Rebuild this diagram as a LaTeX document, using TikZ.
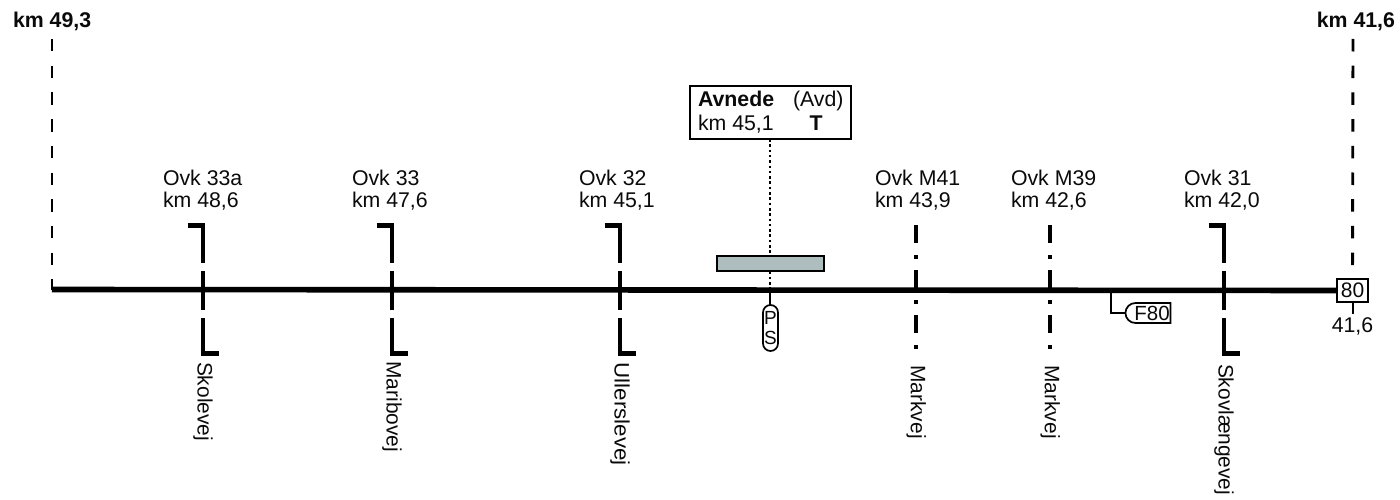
\documentclass[tikz,border=0pt]{standalone}
\usepackage{fontspec}
\setmainfont{Liberation Sans}
\usetikzlibrary{shapes.misc}
\tikzset{
  x=1pt,y=-1pt,
  lbl/.style={inner sep=0pt,outer sep=0pt,anchor=base west,font=\fontsize{21.3}{22}\selectfont,text=txt},
  lblb/.style={lbl,font=\fontsize{21.3}{22}\selectfont\bfseries},
  street/.style={lbl,rotate=-90,font=\fontsize{20.9}{22}\selectfont},
  mainline/.style={line width=5.6pt,black},
  limit/.style={line width=2.9pt,black,dash pattern=on 12.5pt off 14.2pt},
  road/.style={line width=4.2pt,black,dash pattern=on 39pt off 8pt},
  roadtick/.style={line width=4.2pt,black},
  path2/.style={line width=3.4pt,black,dash pattern=on 18pt off 12pt on 3.5pt off 11.5pt},
  thin1/.style={line width=1.7pt,black},
  dots/.style={line width=2.8pt,black,dash pattern=on 2.6pt off 2.7pt},
  boxed/.style={draw=black,line width=1.7pt,fill=white,inner sep=0pt,outer sep=0pt},
}
\definecolor{txt}{HTML}{0A0A0A}
\definecolor{platform}{HTML}{AEBDBD}
\newcommand{\crossing}[6]{%
  % x, top label x, line1, line2, street, street start y
  \coordinate (t#1) at (#1,224);
  \coordinate (b#1) at (#1,355);
  \coordinate (tl#1) at (#1-15.5,225.5);
  \coordinate (tc#1) at (#1+2.1,225.5);
  \coordinate (bc#1) at (#1-2.1,353.5);
  \coordinate (br#1) at (#1+16,353.5);
  \draw[road] (t#1) -- (b#1);
  \draw[roadtick] (tl#1) -- (tc#1);
  \draw[roadtick] (bc#1) -- (br#1);
  \node[lbl] (o#1) at (#2,185) {#3};
  \node[lbl] (k#1) at (#2,207) {#4};
  \node[street] (s#1) at (#1-5.5,#6) {#5};
}
\newcommand{\minor}[5]{%
  \coordinate (t#1) at (#1,225);
  \coordinate (b#1) at (#1,352);
  \draw[path2] (t#1) -- (b#1);
  \node[lbl] (o#1) at (#2,185) {#3};
  \node[lbl] (k#1) at (#2,207) {#4};
  \node[street] (s#1) at (#1-5.2,365.5) {#5};
}
\begin{document}
\begin{tikzpicture}
\useasboundingbox (0,0) rectangle (1400,500);
% limits
\coordinate (L) at (52,289.5);
\coordinate (Ltop) at (52,39);
\coordinate (Rtop) at (1353,39);
\node[lblb] (kmL) at (13,28) {km 49,3};
\node[lblb,anchor=base east] (kmR) at (1395,28) {km 41,6};
\draw[limit] (Ltop) -- (L);
\node[boxed,minimum width=31pt,minimum height=23pt,font=\fontsize{21}{22}\selectfont,text=txt] (b80) at (1352.5,290.5) {80};
\draw[limit] (Rtop) -- (b80.north);
% crossings
\crossing{203}{163}{Ovk 33a}{km 48,6}{Skolevej}{362}
\crossing{392}{352}{Ovk 33}{km 47,6}{Maribovej}{361.5}
\crossing{620}{579}{Ovk 32}{km 45,1}{\scalebox{1.07}[1]{Ullerslevej}}{362.5}
\crossing{1224}{1184}{Ovk 31}{km 42,0}{Skovlængevej}{364}
\minor{916}{875}{Ovk M41}{km 43,9}{Markvej}
\minor{1050}{1011}{Ovk M39}{km 42,6}{Markvej}
% station
\node[boxed,minimum width=161pt,minimum height=53pt] (box) at (770.5,112.5) {};
\node[lblb] (name) at (698,107) {Avnede};
\node[lbl] (abbr) at (793,107) {(Avd)};
\node[lbl] (km) at (698,131) {km 45,1};
\node[lblb,anchor=base] (T) at (816,131) {T};
\coordinate (mid) at (770,289.5);
\draw[dots] (box.south -| mid) -- (mid);
\node[boxed,fill=platform,minimum width=107pt,minimum height=15pt] (plat) at (770.5,263.5) {};
% P S
\node[draw=black,line width=1.7pt,fill=white,rounded corners=7.5pt,minimum width=15pt,minimum height=46pt,inner sep=0pt,outer sep=0pt] (ps) at (770.5,328) {};
\draw[thin1,line width=2.2pt] (mid) -- (ps.north -| mid);
\node[inner sep=0pt,font=\fontsize{19}{19}\selectfont,text=txt] (P) at (770.5,318) {P};
\node[inner sep=0pt,font=\fontsize{19}{19}\selectfont,text=txt] (S) at (770.5,338) {S};
% F80
\coordinate (fa) at (1111,289.5);
\coordinate (fc) at (1111,313);
\node[draw=black,line width=1.7pt,fill=white,rounded rectangle,rounded rectangle right arc=none,minimum width=45pt,minimum height=20pt,inner sep=0pt,outer sep=0pt,font=\fontsize{20.5}{20}\selectfont,text=txt] (F) at (1149.5,313) {\hspace{5pt}F80};
\draw[thin1] (fa) -- (fc) -- (F.west);
% line 80 km
\coordinate (k1) at (1353,314);
\draw[thin1,line width=2.2pt] (b80.south -| k1) -- (k1);
\node[lbl,anchor=base] (km80) at (1352.5,332) {41,6};
% main line
\draw[mainline] (L) -- (b80.west);
\end{tikzpicture}
\end{document}
